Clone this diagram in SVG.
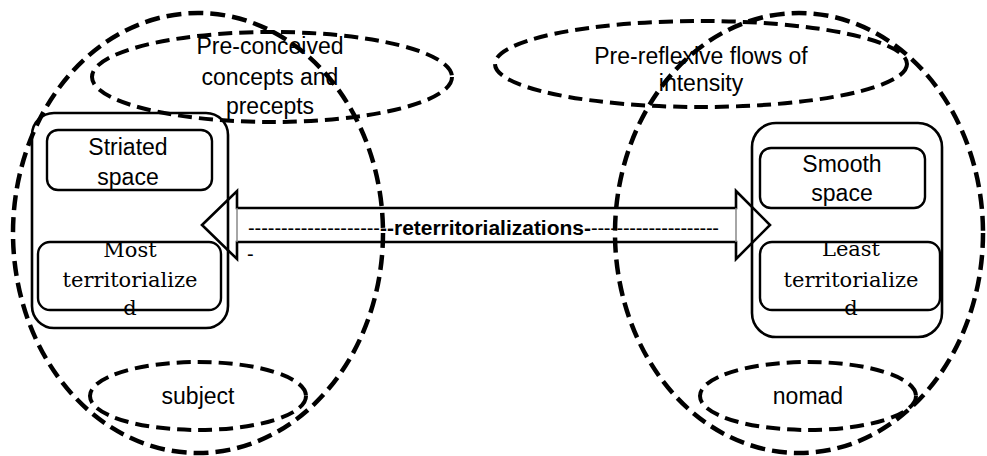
<svg xmlns="http://www.w3.org/2000/svg" width="987" height="456" viewBox="0 0 987 456">
<style>
.bg{fill:#fff}
.big{fill:none;stroke:#000;stroke-width:4.5;stroke-dasharray:15 7}
.sm{fill:none;stroke:#000;stroke-width:4;stroke-dasharray:14 7}
.outer{fill:none;stroke:#000;stroke-width:2.6}
.inner{fill:none;stroke:#000;stroke-width:2.4}
.arrow{fill:none;stroke:#000;stroke-width:2.6;stroke-linejoin:miter}
.base{stroke:#888;stroke-width:1.5}
.sans{font-family:"Liberation Sans",Arial,sans-serif;font-size:23px;fill:#000;text-anchor:middle}
.serif{font-family:"DejaVu Serif","Liberation Serif",serif;font-size:21px;fill:#000;text-anchor:middle}
.dash{font-family:"Liberation Sans",Arial,sans-serif;font-size:20px;fill:#000}
.bold{font-weight:bold}
</style>
<rect class="bg" width="987" height="456"/>
<g id="connectors">
  <polygon class="arrow" points="202,225 237,191 237,208 736,208 736,191 770,225 736,259 736,242 237,242 237,259"/>
  <line class="base" x1="237" y1="208" x2="237" y2="242"/>
  <line class="base" x1="736" y1="208" x2="736" y2="242"/>
  <g id="label-reterritorializations">
    <text class="dash" x="248" y="235" textLength="132" lengthAdjust="spacing">--------------------</text>
    <text class="dash bold" x="380" y="235" textLength="211" lengthAdjust="spacingAndGlyphs">--reterritorializations-</text>
    <text class="dash" x="591" y="235" textLength="128" lengthAdjust="spacing">--------------------</text>
    <text class="dash" x="247" y="261">-</text>
  </g>
</g>
<g id="node-left-container">
  <rect class="outer" x="32" y="113" width="196" height="215" rx="22"/>
</g>
<g id="node-striated">
  <rect class="inner" x="47" y="130" width="165" height="60" rx="11"/>
  <text class="sans" x="128" y="155">Striated</text>
  <text class="sans" x="128" y="185">space</text>
</g>
<g id="node-most">
  <rect class="inner" x="38" y="242" width="183" height="68" rx="12"/>
  <text class="serif" x="130" y="257">Most</text>
  <text class="serif" x="130" y="287">territorialize</text>
  <text class="serif" x="130" y="315">d</text>
</g>
<g id="node-right-container">
  <rect class="outer" x="752" y="123" width="190" height="214" rx="24"/>
</g>
<g id="node-smooth">
  <rect class="inner" x="760" y="148" width="165" height="60" rx="11"/>
  <text class="sans" x="842" y="172">Smooth</text>
  <text class="sans" x="842" y="201">space</text>
</g>
<g id="node-least">
  <rect class="inner" x="760" y="242" width="180" height="68" rx="12"/>
  <text class="serif" x="851" y="256">Least</text>
  <text class="serif" x="851" y="287">territorialize</text>
  <text class="serif" x="851" y="315">d</text>
</g>
<g id="node-preconceived">
  <text class="sans" x="270" y="54">Pre-conceived</text>
  <text class="sans" x="270" y="85">concepts and</text>
  <text class="sans" x="270" y="114">precepts</text>
  <ellipse class="sm" cx="272" cy="77" rx="180" ry="45"/>
</g>
<g id="node-prereflexive">
  <text class="sans" x="701" y="64">Pre-reflexive flows of</text>
  <text class="sans" x="701" y="91">intensity</text>
  <ellipse class="sm" cx="701" cy="64" rx="206" ry="43"/>
</g>
<g id="node-subject">
  <text class="sans" x="198" y="404">subject</text>
  <ellipse class="sm" cx="198" cy="396" rx="108" ry="34"/>
</g>
<g id="node-nomad">
  <text class="sans" x="808" y="404">nomad</text>
  <ellipse class="sm" cx="808" cy="396" rx="108" ry="34"/>
</g>
<g id="node-left-ellipse">
  <ellipse class="big" cx="198" cy="233" rx="185" ry="220"/>
</g>
<g id="node-right-ellipse">
  <ellipse class="big" cx="799" cy="233" rx="184" ry="220"/>
</g>
</svg>
